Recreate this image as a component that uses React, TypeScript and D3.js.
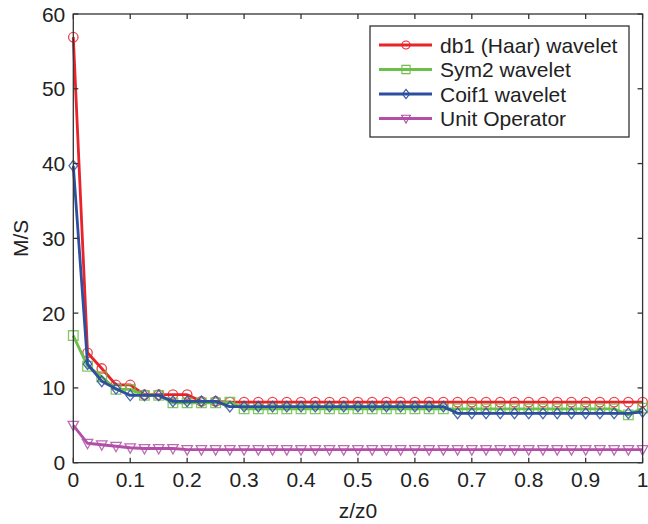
import React, { useRef, useEffect } from "react";
import * as d3 from "d3";

// z/z0 sampling (41 points, step 0.025)
const zValues = d3.range(41).map((i) => i / 40);

const haar = [
  56.9, 14.7, 12.6, 10.4, 10.4, 9.1, 9.1, 9.1, 9.1, 8.2, 8.2, 8.1, 8.1, 8.1,
  8.1, 8.1, 8.1, 8.1, 8.1, 8.1, 8.1, 8.1, 8.1, 8.1, 8.1, 8.1, 8.1, 8.1, 8.1,
  8.1, 8.1, 8.1, 8.1, 8.1, 8.1, 8.1, 8.1, 8.1, 8.1, 8.1, 8.1,
];
const sym2 = [
  17.0, 12.9, 11.5, 9.8, 9.8, 9.0, 9.0, 8.0, 8.0, 8.0, 8.0, 8.1, 7.2, 7.2,
  7.2, 7.2, 7.2, 7.2, 7.2, 7.2, 7.2, 7.2, 7.2, 7.2, 7.2, 7.2, 7.2, 7.2, 7.2,
  7.2, 7.2, 7.2, 7.2, 7.2, 7.2, 7.2, 7.2, 7.2, 7.2, 6.4, 7.3,
];
const coif1 = [
  39.7, 13.2, 10.9, 9.9, 9.0, 9.0, 9.0, 8.2, 8.2, 8.2, 8.2, 7.5, 7.5, 7.5,
  7.5, 7.5, 7.5, 7.5, 7.5, 7.5, 7.5, 7.5, 7.5, 7.5, 7.5, 7.5, 7.5, 6.6, 6.6,
  6.6, 6.6, 6.6, 6.6, 6.6, 6.6, 6.6, 6.6, 6.6, 6.6, 6.6, 6.8,
];
const unitOp = [
  5.0, 2.6, 2.4, 2.2, 2.0, 1.9, 1.9, 1.9, 1.75, 1.75, 1.75, 1.75, 1.75, 1.75,
  1.75, 1.75, 1.75, 1.75, 1.75, 1.75, 1.75, 1.75, 1.75, 1.75, 1.75, 1.75, 1.75,
  1.75, 1.75, 1.75, 1.75, 1.75, 1.75, 1.75, 1.75, 1.75, 1.75, 1.75, 1.75, 1.75,
  1.75,
];

const seriesNames = [
  "db1 (Haar) wavelet",
  "Sym2 wavelet",
  "Coif1 wavelet",
  "Unit Operator",
];
const seriesValues = [haar, sym2, coif1, unitOp];
const seriesColors = ["#e8232a", "#6cc04a", "#2d4f9e", "#b24fa7"];
const seriesMarkers = ["circle", "square", "diamond", "triangleDown"];

const xTicks = d3.range(11).map((i) => i / 10);
const yTicks = [0, 10, 20, 30, 40, 50, 60];

const width = 648;
const height = 524;
const margin = { top: 14, right: 5.4, bottom: 61.3, left: 73.3 };
const font = "'Liberation Sans', Arial, Helvetica, sans-serif";
const fontSize = 21;

function markerPath(kind: string): string {
  const s = 4.8;
  if (kind === "square") return `M${-s},${-s}H${s}V${s}H${-s}Z`;
  if (kind === "diamond") {
    const d = 5.4;
    return `M0,${-d}L${d * 0.8},0L0,${d}L${-d * 0.8},0Z`;
  }
  if (kind === "triangleDown") {
    const t = 5.2;
    return `M${-t},${-t * 0.75}L${t},${-t * 0.75}L0,${t * 1.05}Z`;
  }
  return d3.symbol(d3.symbolCircle, 70)() as string;
}

function Chart() {
  const svgRef = useRef<SVGSVGElement>(null);

  useEffect(() => {
    const svg = d3.select(svgRef.current);
    svg.selectAll("*").remove();

    const x = d3
      .scaleLinear()
      .domain([0, 1])
      .range([margin.left, width - margin.right]);
    const y = d3
      .scaleLinear()
      .domain([0, 60])
      .range([height - margin.bottom, margin.top]);

    const axisColor = "#333";
    const tickLen = 5;

    // lines + markers
    const line = d3
      .line<number>()
      .x((_, i) => x(zValues[i]))
      .y((d) => y(d));

    seriesValues.forEach((vals, si) => {
      const g = svg.append("g");
      g.append("path")
        .datum(vals)
        .attr("fill", "none")
        .attr("stroke", seriesColors[si])
        .attr("stroke-width", 2.8)
        .attr("stroke-linejoin", "round")
        .attr("d", line);
      g.selectAll("path.m")
        .data(vals)
        .enter()
        .append("path")
        .attr("class", "m")
        .attr("d", markerPath(seriesMarkers[si]))
        .attr("transform", (d, i) => `translate(${x(zValues[i])},${y(d)})`)
        .attr("fill", "none")
        .attr("stroke", seriesColors[si])
        .attr("stroke-opacity", 0.85)
        .attr("stroke-width", 1.3);
    });

    // axes box
    const [x0, x1] = x.range();
    const [y0, y1] = y.range();
    svg
      .append("rect")
      .attr("x", x0)
      .attr("y", y1)
      .attr("width", x1 - x0)
      .attr("height", y0 - y1)
      .attr("fill", "none")
      .attr("stroke", axisColor)
      .attr("stroke-width", 1.3);

    // inward ticks on all four sides
    const ticks = svg.append("g").attr("stroke", axisColor).attr("stroke-width", 1.3);
    xTicks.forEach((t) => {
      ticks.append("line").attr("x1", x(t)).attr("x2", x(t)).attr("y1", y0).attr("y2", y0 - tickLen);
      ticks.append("line").attr("x1", x(t)).attr("x2", x(t)).attr("y1", y1).attr("y2", y1 + tickLen);
    });
    yTicks.forEach((t) => {
      ticks.append("line").attr("x1", x0).attr("x2", x0 + tickLen).attr("y1", y(t)).attr("y2", y(t));
      ticks.append("line").attr("x1", x1).attr("x2", x1 - tickLen).attr("y1", y(t)).attr("y2", y(t));
    });

    // tick labels
    svg
      .append("g")
      .selectAll("text")
      .data(xTicks)
      .enter()
      .append("text")
      .attr("x", (d) => x(d))
      .attr("y", y0 + 24.5)
      .attr("text-anchor", "middle")
      .attr("font-family", font)
      .attr("font-size", fontSize)
      .attr("fill", "#222")
      .text((d) => d3.format("")(d));

    svg
      .append("g")
      .selectAll("text")
      .data(yTicks)
      .enter()
      .append("text")
      .attr("x", x0 - 8)
      .attr("y", (d) => y(d) + 7.5)
      .attr("text-anchor", "end")
      .attr("font-family", font)
      .attr("font-size", fontSize)
      .attr("fill", "#222")
      .text((d) => d);

    // axis labels
    svg
      .append("text")
      .attr("x", (x0 + x1) / 2)
      .attr("y", 518)
      .attr("text-anchor", "middle")
      .attr("font-family", font)
      .attr("font-size", fontSize)
      .attr("fill", "#222")
      .text("z/z0");
    svg
      .append("text")
      .attr("transform", "rotate(-90)")
      .attr("x", -(y0 + y1) / 2)
      .attr("y", 28)
      .attr("text-anchor", "middle")
      .attr("font-family", font)
      .attr("font-size", fontSize)
      .attr("fill", "#222")
      .text("M/S");

    // legend
    const leg = svg.append("g");
    leg
      .append("rect")
      .attr("x", 370)
      .attr("y", 26)
      .attr("width", 259)
      .attr("height", 111)
      .attr("fill", "#fff")
      .attr("stroke", axisColor)
      .attr("stroke-width", 1.3);
    seriesNames.forEach((name, i) => {
      const cy = 45 + i * 24.5;
      leg
        .append("line")
        .attr("x1", 379)
        .attr("x2", 432)
        .attr("y1", cy)
        .attr("y2", cy)
        .attr("stroke", seriesColors[i])
        .attr("stroke-width", 2.8);
      leg
        .append("path")
        .attr("d", markerPath(seriesMarkers[i]))
        .attr("transform", `translate(406,${cy}) scale(0.85)`)
        .attr("fill", "none")
        .attr("stroke", seriesColors[i])
        .attr("stroke-width", 1.3);
      leg
        .append("text")
        .attr("x", 440)
        .attr("y", cy + 7.5)
        .attr("font-family", font)
        .attr("font-size", fontSize)
        .attr("fill", "#222")
        .text(name);
    });
  }, []);

  return (
    <svg
      ref={svgRef}
      width={width}
      height={height}
      style={{ position: "absolute", left: 0, top: 0, display: "block" }}
    />
  );
}

export default function App() {
  return (
    <div>
      <Chart />
    </div>
  );
}
